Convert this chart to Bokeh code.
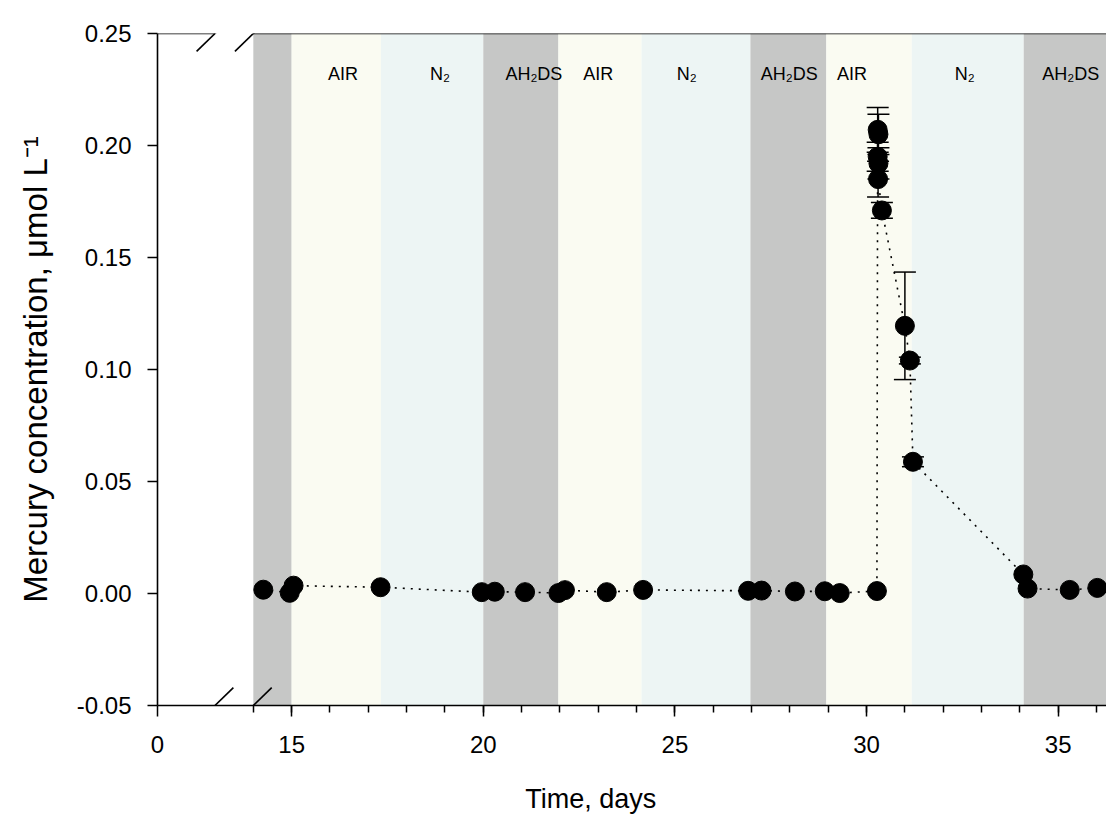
from bokeh.plotting import figure
from bokeh.models import (ColumnDataSource, FixedTicker, Whisker, TeeHead, Arrow,
                          Range1d, PrintfTickFormatter)
from bokeh.core.properties import value
from bokeh.embed import file_html
from bokeh.resources import INLINE

FONT = "Liberation Sans"

# ---- data -------------------------------------------------------------
time_days = [14.26, 14.95, 15.05, 17.32, 19.96, 20.30, 21.09, 21.96, 22.13, 23.22,
             24.17, 26.91, 27.26, 28.13, 28.91, 29.30, 30.27, 30.29, 30.31, 30.29,
             30.31, 30.30, 30.40, 31.00, 31.13, 31.21, 34.09, 34.20, 35.30, 36.02]
mercury = [0.0017, 0.0003, 0.0035, 0.0028, 0.0006, 0.0008, 0.0006, 0.0002, 0.0015, 0.0006,
           0.0016, 0.0012, 0.0013, 0.0009, 0.0010, 0.0002, 0.0011, 0.2070, 0.2050, 0.1950,
           0.1920, 0.1850, 0.1710, 0.1195, 0.1040, 0.0588, 0.0085, 0.0022, 0.0016, 0.0025]

err_time = [30.29, 30.31, 30.29, 30.31, 30.30, 30.40, 31.00, 31.13, 31.21]
err_val = [0.2070, 0.2050, 0.1950, 0.1920, 0.1850, 0.1710, 0.1195, 0.1040, 0.0588]
err_sd = [0.0100, 0.0090, 0.0065, 0.0070, 0.0080, 0.0035, 0.0240, 0.0015, 0.0022]

band_start = [14.0, 15.0, 17.33, 20.0, 21.96, 24.13, 26.97, 28.95, 31.18, 34.10]
band_end = [15.0, 17.33, 20.0, 21.96, 24.13, 26.97, 28.95, 31.18, 34.10, 36.30]
band_kind = ["AH2DS", "AIR", "N2", "AH2DS", "AIR", "N2", "AH2DS", "AIR", "N2", "AH2DS"]
kind_color = {"AH2DS": "#C6C7C6", "AIR": "#FAFBF2", "N2": "#EDF5F4"}

label_x = [16.34, 18.87, 21.32, 23.00, 25.31, 27.98, 29.62, 32.56, 35.33]
label_text = ["AIR", "N\u2082", "AH\u2082DS", "AIR", "N\u2082", "AH\u2082DS", "AIR", "N\u2082", "AH\u2082DS"]

# broken x axis: left segment holds only the "0" tick
x_left_start = 11.5
x_break_a = 13.0
x_break_b = 14.0
x_end = 36.26
x_major_ticks = [11.5, 15, 20, 25, 30, 35]
x_major_labels = ["0", "15", "20", "25", "30", "35"]
x_minor_ticks = list(range(14, 37))
y_ticks = [-0.05, 0.0, 0.05, 0.10, 0.15, 0.20, 0.25]

x_title = "Time, days"
y_title = "Mercury concentration, \u03bcmol L\u207b\u00b9"

# ---- figure -----------------------------------------------------------
p = figure(width=1106, height=816,
           x_range=Range1d(x_left_start, x_end), y_range=Range1d(-0.05, 0.25),
           output_backend="svg", toolbar_location=None,
           min_border_left=157, min_border_right=0, min_border_top=33, min_border_bottom=111)
p.outline_line_color = None
p.grid.visible = False
p.background_fill_color = "white"

# bands
bsrc = ColumnDataSource(dict(left=band_start, right=band_end,
                             color=[kind_color[k] for k in band_kind]))
p.quad(left="left", right="right", top=0.25, bottom=-0.05, fill_color="color",
       line_color=None, source=bsrc)

p.text(x=label_x, y=[0.232] * len(label_x), text=label_text,
       text_font=value(FONT), text_font_size="18px", text_align="center",
       text_baseline="middle", text_color="black")

# data
p.line(time_days, mercury, line_color="black", line_width=1.6, line_dash="2 6")

esrc = ColumnDataSource(dict(x=err_time,
                             upper=[v + e for v, e in zip(err_val, err_sd)],
                             lower=[v - e for v, e in zip(err_val, err_sd)]))
w = Whisker(source=esrc, base="x", upper="upper", lower="lower",
            line_color="black", line_width=1.5,
            upper_head=TeeHead(size=22, line_width=1.5, line_color="black"),
            lower_head=TeeHead(size=22, line_width=1.5, line_color="black"),
            level="annotation")
p.add_layout(w)

p.scatter(time_days, mercury, size=19, fill_color="black", line_color="black")

# axes
xa = p.xaxis[0]
xa.ticker = FixedTicker(ticks=x_major_ticks, minor_ticks=x_minor_ticks)
xa.formatter = PrintfTickFormatter(format="%d")
xa.major_label_overrides = {t: l for t, l in zip(x_major_ticks, x_major_labels)}
# trailing no-break spaces shift the centred title left, as in the original
xa.axis_label = x_title + "\u00a0" * 11
ya = p.yaxis[0]
ya.ticker = FixedTicker(ticks=y_ticks)
ya.formatter = PrintfTickFormatter(format="%.2f")
ya.axis_label = y_title

for ax in (xa, ya):
    ax.axis_line_color = "black"
    ax.axis_line_width = 1.6
    ax.major_tick_line_color = "black"
    ax.major_tick_line_width = 1.5
    ax.minor_tick_line_color = "black"
    ax.minor_tick_line_width = 1.5
    ax.major_tick_in = 0
    ax.minor_tick_in = 0
    ax.major_label_text_font = FONT
    ax.major_label_text_font_size = "24px"
    ax.major_label_text_color = "black"
    ax.axis_label_text_font = FONT
    ax.axis_label_text_font_style = "normal"
    ax.axis_label_text_color = "black"

xa.axis_label_text_font_size = "27px"
ya.axis_label_text_font_size = "33px"
xa.major_tick_out = 11
xa.minor_tick_out = 7
xa.major_label_standoff = 19
xa.axis_label_standoff = 28
ya.major_tick_out = 10
ya.minor_tick_line_color = None
ya.major_label_standoff = 16
ya.axis_label_standoff = 20

# top frame line (broken) and break marks
def seg(x0, y0, x1, y1):
    p.add_layout(Arrow(end=None, start=None, x_start=x0, y_start=y0, x_end=x1, y_end=y1,
                       line_color="black", line_width=1.6))

seg(x_left_start, 0.25, x_break_a, 0.25)
seg(x_break_b, 0.25, x_end, 0.25)
dx, dy = 0.48, 0.008
for xb in (x_break_a, x_break_b):
    for yb in (0.25, -0.05):
        seg(xb - dx, yb - dy, xb + dx, yb + dy)

open("out.html", "w").write(file_html(p, INLINE))
